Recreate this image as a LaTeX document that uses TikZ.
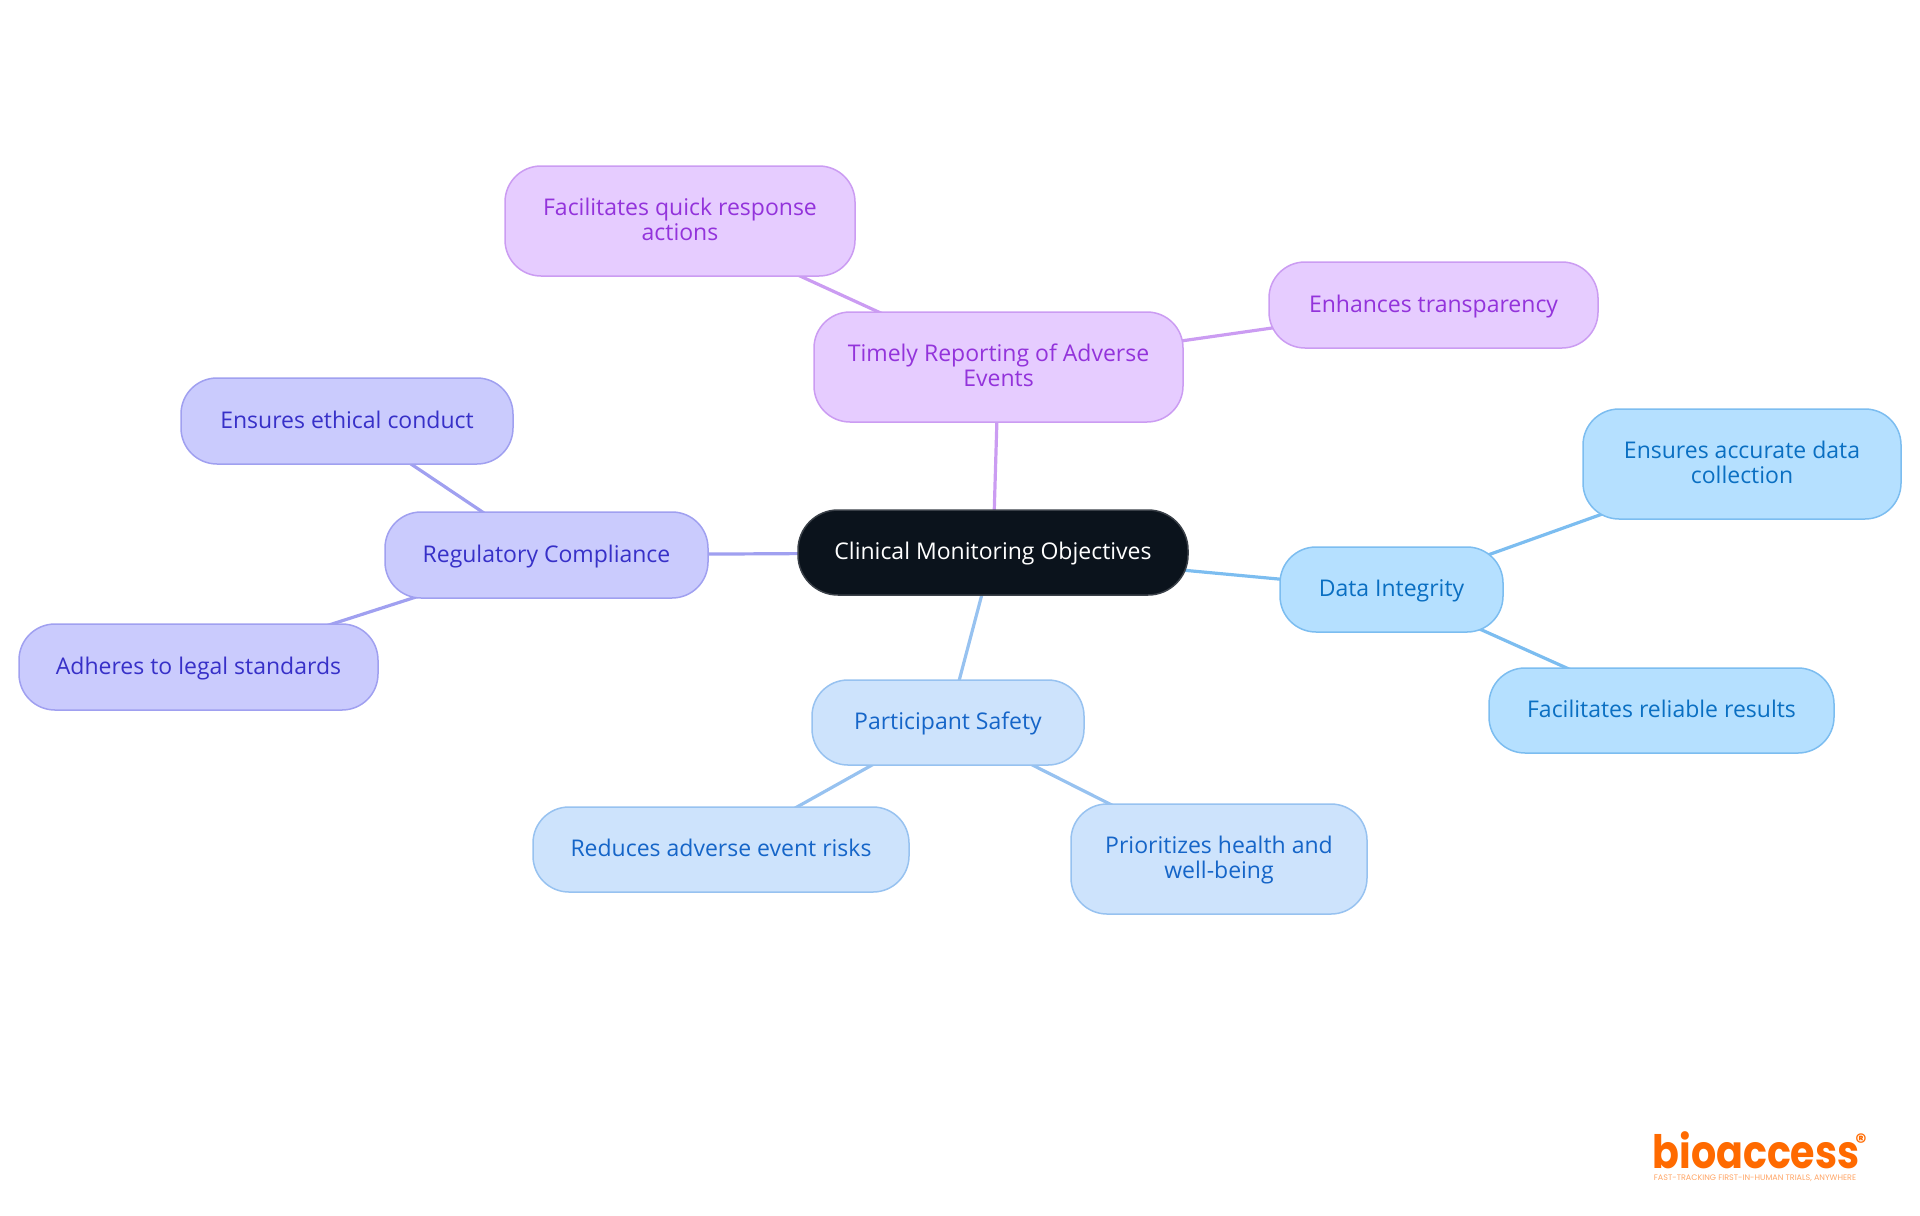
\documentclass[tikz,border=0pt]{standalone}
\usepackage{fontspec}
\setmainfont{Open Sans}
\newfontfamily\logofont{Poppins}
\definecolor{darkfill}{HTML}{0B131C}
\definecolor{darkline}{HTML}{3A4048}
\definecolor{purfill}{HTML}{E6CCFF}
\definecolor{purline}{HTML}{CB9CF2}
\definecolor{purtext}{HTML}{9333DB}
\definecolor{skyfill}{HTML}{B5E0FF}
\definecolor{skyline}{HTML}{7CBDF0}
\definecolor{skytext}{HTML}{0A6FC2}
\definecolor{bluefill}{HTML}{CDE3FC}
\definecolor{blueline}{HTML}{97C2F0}
\definecolor{bluetext}{HTML}{1565C8}
\definecolor{indfill}{HTML}{CACBFD}
\definecolor{indline}{HTML}{A0A0F0}
\definecolor{indtext}{HTML}{3730C8}
\definecolor{logoorange}{HTML}{FF6A00}
\tikzset{
  x=0.5pt,y=-0.5pt,
  box/.style={rounded corners=18pt,line width=0.75pt,align=center,inner sep=0pt,
    font=\fontsize{11.5}{12.6}\selectfont},
  single/.style={text height=8.4pt,text depth=1.2pt},
  double/.style={text height=21pt,text depth=1.3pt},
  rootbox/.style={box,single,fill=darkfill,draw=darkline,text=white,rounded corners=20pt},
  purbox/.style={box,fill=purfill,draw=purline,text=purtext},
  skybox/.style={box,fill=skyfill,draw=skyline,text=skytext},
  bluebox/.style={box,fill=bluefill,draw=blueline,text=bluetext},
  indbox/.style={box,fill=indfill,draw=indline,text=indtext},
  link/.style={line width=1.6pt},
}
\newcommand{\sizedbox}[7]{% style, name, x0, y0, x1, y1, text
  \node[#1,minimum width=(#5-#3)*0.5pt,minimum height=(#6-#4)*0.5pt] (#2) at ({(#3+#5)/2},{(#4+#6)/2}) {#7};}
\begin{document}
\begin{tikzpicture}
\useasboundingbox (0,0) rectangle (1920,1215);
\pgfdeclarelayer{front}
\pgfsetlayers{main,front}
\begin{pgfonlayer}{front}
\sizedbox{rootbox}{root}{798}{510}{1188}{595}{Clinical Monitoring Objectives}
\sizedbox{purbox,double}{timely}{814}{312}{1183}{422}{Timely Reporting of Adverse\\Events}
\sizedbox{purbox,double}{quick}{505}{166}{855}{276}{Facilitates quick response\\actions}
\sizedbox{purbox,single}{transp}{1269}{262}{1598}{348}{Enhances transparency}
\sizedbox{skybox,single}{data}{1280}{547}{1503}{632}{Data Integrity}
\sizedbox{skybox,double}{accurate}{1583}{409}{1901}{519}{Ensures accurate data\\collection}
\sizedbox{skybox,single}{reliable}{1489}{668}{1834}{753}{Facilitates reliable results}
\sizedbox{bluebox,single}{safety}{812}{680}{1084}{765}{Participant Safety}
\sizedbox{bluebox,single}{risks}{533}{807}{909}{892}{Reduces adverse event risks}
\sizedbox{bluebox,double}{health}{1071}{804}{1367}{914}{Prioritizes health and\\well-being}
\sizedbox{indbox,single}{reg}{385}{512}{708}{598}{Regulatory Compliance}
\sizedbox{indbox,single}{ethical}{181}{378}{513}{464}{Ensures ethical conduct}
\sizedbox{indbox,single}{legal}{19}{624}{378}{710}{Adheres to legal standards}
\node[inner sep=0pt,text=logoorange,xscale=0.86,font=\logofont\bfseries\fontsize{23}{23}\selectfont] (logo) at (1756,1150) {bioaccess};
\node[inner sep=0pt,text=logoorange,font=\logofont\bfseries\fontsize{11}{11}\selectfont] (regmark) at (1861,1142) {®};
\node[inner sep=0pt,text=logoorange!60,font=\logofont\fontsize{4}{4}\selectfont] (tagline) at (1755,1178) {FAST-TRACKING FIRST-IN-HUMAN TRIALS, ANYWHERE};
\end{pgfonlayer}
\draw[link,purline] (root.center) -- (timely.center);
\draw[link,purline] (timely.center) -- (quick.center);
\draw[link,purline] (timely.center) -- (transp.center);
\draw[link,skyline] (root.center) -- (data.center);
\draw[link,skyline] (data.center) -- (accurate.center);
\draw[link,skyline] (data.center) -- (reliable.center);
\draw[link,blueline] (root.center) -- (safety.center);
\draw[link,blueline] (safety.center) -- (risks.center);
\draw[link,blueline] (safety.center) -- (health.center);
\draw[link,indline] (root.center) -- (reg.center);
\draw[link,indline] (reg.center) -- (ethical.center);
\draw[link,indline] (reg.center) -- (legal.center);
\end{tikzpicture}
\end{document}
